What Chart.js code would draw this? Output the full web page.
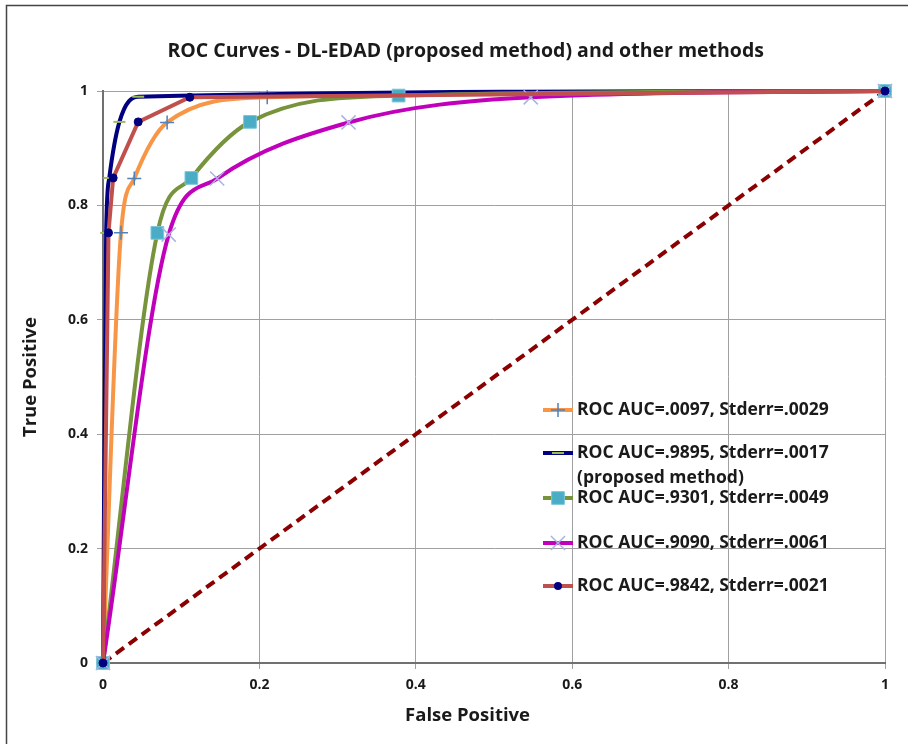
<!DOCTYPE html>
<html lang="en">
<head>
  <meta charset="UTF-8">
  <title>ROC Curves</title>
  <style>
    body { margin: 0; background: #fff; }
    canvas { display: block; }
  </style>
</head>
<body>
  <canvas id="chart" width="908" height="744"></canvas>
  <script src="https://cdn.jsdelivr.net/npm/chart.js"></script>
  <script>
    // false positive / true positive rates
    const fpA = [0, 0.023, 0.040, 0.082, 0.210, 1];
    const tpA = [0, 0.752, 0.847, 0.945, 0.989, 1];
    const fpB = [0, 0.004, 0.008, 0.021, 0.045, 1];   // proposed method
    const tpB = [0, 0.752, 0.848, 0.946, 0.990, 1];
    const fpC = [0, 0.0695, 0.113, 0.188, 0.378, 1];
    const tpC = [0, 0.752, 0.848, 0.946, 0.992, 1];
    const fpD = [0, 0.084, 0.146, 0.314, 0.547, 1];
    const tpD = [0, 0.749, 0.847, 0.945, 0.989, 1];
    const fpE = [0, 0.007, 0.013, 0.045, 0.111, 1];
    const tpE = [0, 0.752, 0.848, 0.946, 0.989, 1];
    const chanceLine = [0, 1];

    const legendLabels = [
      ['ROC AUC=.0097, Stderr=.0029'],
      ['ROC AUC=.9895, Stderr=.0017', '(proposed method)'],
      ['ROC AUC=.9301, Stderr=.0049'],
      ['ROC AUC=.9090, Stderr=.0061'],
      ['ROC AUC=.9842, Stderr=.0021']
    ];

    const pts = (xs, ys) => xs.map((x, i) => ({ x: x, y: ys[i] }));
    const FONT = '"Open Sans", sans-serif';
    const INK = '#1a1a1a';
    Chart.defaults.font.family = FONT;

    const datasets = [
      { data: pts(fpA, tpA), borderColor: '#F79646', order: 4, cubicInterpolationMode: 'monotone',
        pointStyle: 'cross', pointRadius: 7, pointBorderColor: '#4F81BD', pointBorderWidth: 1.5, pointBackgroundColor: '#4F81BD' },
      { data: pts(fpB, tpB), borderColor: '#000080', order: 3, cubicInterpolationMode: 'monotone',
        pointStyle: 'line', pointRadius: 6, pointBorderColor: '#9BBB59', pointBorderWidth: 2, pointBackgroundColor: '#9BBB59' },
      { data: pts(fpC, tpC), borderColor: '#77933C', order: 2, cubicInterpolationMode: 'monotone',
        pointStyle: 'rect', pointRadius: 9, pointBorderColor: '#7CC6DA', pointBorderWidth: 1, pointBackgroundColor: '#4BACC6' },
      { data: pts(fpD, tpD), borderColor: '#C000BA', order: 1, cubicInterpolationMode: 'monotone',
        pointStyle: 'crossRot', pointRadius: 10, pointBorderColor: '#A9B3E0', pointBorderWidth: 1.5, pointBackgroundColor: '#A9B3E0' },
      { data: pts(fpE, tpE), borderColor: '#C0504D', order: 0, tension: 0,
        pointStyle: 'circle', pointRadius: 4, pointBorderColor: '#00007F', pointBorderWidth: 1, pointBackgroundColor: '#00007F' },
      { data: pts(chanceLine, chanceLine), borderColor: '#8B0000', order: 5, tension: 0,
        borderDash: [10, 6], pointRadius: 0 }
    ];
    datasets.forEach(ds => { ds.borderWidth = 4; ds.fill = false; ds.clip = false; ds.pointHoverRadius = ds.pointRadius; });

    function drawMarker(ctx, ds, x, y) {
      const r = ds.pointRadius;
      ctx.save();
      ctx.lineWidth = ds.pointBorderWidth;
      ctx.strokeStyle = ds.pointBorderColor;
      ctx.fillStyle = ds.pointBackgroundColor;
      ctx.beginPath();
      if (ds.pointStyle === 'cross') {
        ctx.moveTo(x - r, y); ctx.lineTo(x + r, y);
        ctx.moveTo(x, y - r); ctx.lineTo(x, y + r);
        ctx.stroke();
      } else if (ds.pointStyle === 'line') {
        ctx.moveTo(x - r, y); ctx.lineTo(x + r, y);
        ctx.stroke();
      } else if (ds.pointStyle === 'rect') {
        const s = r * Math.SQRT1_2;
        ctx.rect(x - s, y - s, 2 * s, 2 * s);
        ctx.fill(); ctx.stroke();
      } else if (ds.pointStyle === 'crossRot') {
        const d = r * Math.SQRT1_2;
        ctx.moveTo(x - d, y - d); ctx.lineTo(x + d, y + d);
        ctx.moveTo(x - d, y + d); ctx.lineTo(x + d, y - d);
        ctx.stroke();
      } else {
        ctx.arc(x, y, r, 0, Math.PI * 2);
        ctx.fill();
      }
      ctx.restore();
    }

    // legend sits inside the plot, rows are unevenly spaced like the original
    const rocLegend = {
      id: 'rocLegend',
      afterDraw(chart) {
        const ctx = chart.ctx;
        const rows = [410, 453, 498, 543, 586];
        ctx.save();
        ctx.font = 'bold 17.5px ' + FONT;
        ctx.fillStyle = INK;
        ctx.textBaseline = 'middle';
        legendLabels.forEach((lines, i) => {
          const ds = chart.data.datasets[i];
          const y = rows[i];
          ctx.save();
          ctx.strokeStyle = ds.borderColor;
          ctx.lineWidth = 4;
          ctx.beginPath();
          ctx.moveTo(543, y); ctx.lineTo(573, y);
          ctx.stroke();
          ctx.restore();
          drawMarker(ctx, ds, 558, y);
          lines.forEach((t, j) => ctx.fillText(t, 577, y + j * 25));
        });
        ctx.restore();
      }
    };

    const frame = {
      id: 'frame',
      beforeDraw(chart) {
        const ctx = chart.ctx;
        ctx.save();
        ctx.fillStyle = '#fff';
        ctx.fillRect(0, 0, chart.width, chart.height);
        ctx.strokeStyle = '#444';
        ctx.lineWidth = 1.5;
        ctx.strokeRect(6.5, 5.5, 1000, 1000);
        ctx.restore();
      }
    };

    const tickFont = { family: FONT, size: 14, weight: 'bold' };
    const titleFont = { family: FONT, size: 18.5, weight: 'bold' };
    const nb = n => '\u00a0'.repeat(n);
    const plainTick = v => String(+v.toFixed(1));

    new Chart(document.getElementById('chart'), {
      type: 'line',
      data: { datasets: datasets },
      options: {
        responsive: false,
        animation: false,
        devicePixelRatio: 1,
        events: [],
        layout: { padding: { left: 16, right: 23, top: 0, bottom: 10 } },
        plugins: {
          legend: { display: false },
          tooltip: { enabled: false },
          title: {
            display: true,
            text: nb(6) + 'ROC Curves - DL-EDAD (proposed method) and other methods',
            color: INK,
            font: { family: FONT, size: 19.5, weight: 'bold' },
            padding: { top: 40, bottom: 27.6 }
          }
        },
        scales: {
          x: {
            type: 'linear', min: 0, max: 1,
            afterFit: s => { s.height = 71; },
            ticks: { stepSize: 0.2, padding: 8, color: INK, font: tickFont, maxRotation: 0, callback: plainTick },
            grid: { color: '#a0a0a0', tickLength: 6 },
            border: { color: '#707070', width: 2 },
            title: { display: true, text: 'False Positive' + nb(11), color: INK, font: titleFont, padding: { top: 0, bottom: 7 } }
          },
          y: {
            type: 'linear', min: 0, max: 1,
            afterFit: s => { s.width = 87; },
            ticks: { stepSize: 0.2, padding: 9, color: INK, font: tickFont, callback: plainTick },
            grid: { color: '#a0a0a0', tickLength: 6 },
            border: { color: '#707070', width: 2 },
            title: { display: true, text: 'True Positive', color: INK, font: titleFont, padding: { top: 4, bottom: 0 } }
          }
        }
      },
      plugins: [frame, rocLegend]
    });
  </script>
</body>
</html>
